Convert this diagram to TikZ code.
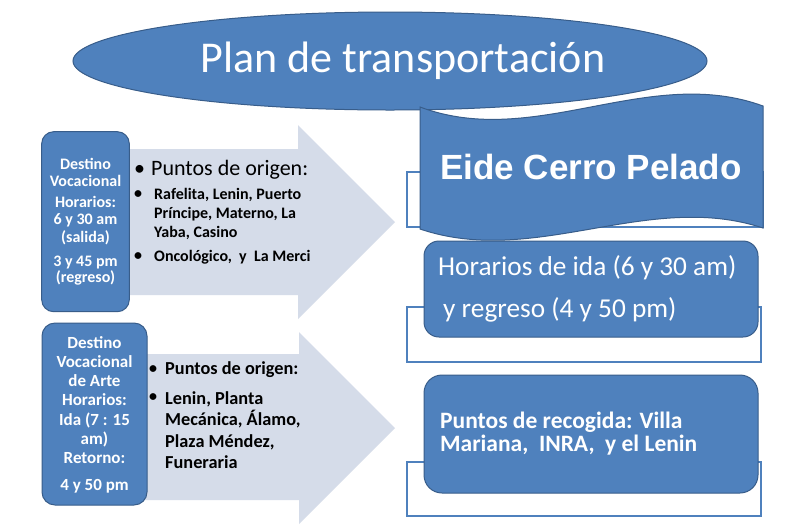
\documentclass[tikz,border=0pt]{standalone}
\usepackage{fontspec}
\setmainfont{Carlito}
\newfontfamily\arialf{Liberation Sans}
\usetikzlibrary{shapes.geometric}
\definecolor{boxblue}{HTML}{4F81BD}
\definecolor{boxedge}{HTML}{385D8A}
\definecolor{arrowfill}{HTML}{D5DCE9}
\tikzset{
  bluebox/.style={fill=boxblue, draw=boxedge, line width=1pt},
  framebox/.style={draw=boxblue, line width=1.3pt},
  arrowshape/.style={fill=arrowfill},
  wtxt/.style={text=white, inner sep=0pt, align=center},
  btxt/.style={text=black, inner sep=0pt, align=left, anchor=west},
}
\begin{document}
\begin{tikzpicture}[x=1pt,y=-1pt]
\useasboundingbox (0,0) rectangle (800,528);
\fill[white] (0,0) rectangle (800,528);

% background frames
\draw[framebox] (407,172) rectangle (763,227);
\draw[framebox] (407,307) rectangle (761,362);
\draw[framebox] (407,462) rectangle (761,516);

% arrows
\fill[arrowshape] (125,149) -- (298,149) -- (298,125) -- (395,222) -- (298,319) -- (298,295) -- (125,295) -- cycle;
\fill[arrowshape] (140,354) -- (299,354) -- (299,332) -- (395,428) -- (299,524) -- (299,500) -- (140,500) -- cycle;

% left boxes
\node[bluebox, rounded corners=12pt, minimum width=87.6pt, minimum height=180pt, inner sep=0pt] (lb1) at (85.5,221.7) {};
\node[bluebox, rounded corners=13pt, minimum width=105pt, minimum height=182pt, inner sep=0pt] (lb2) at (94.5,414) {};

% title ellipse
\node[ellipse, bluebox, minimum width=634pt, minimum height=98pt, inner sep=0pt] (title) at (390,61) {};
\node[wtxt, font=\fontsize{44}{48}\selectfont] (titletxt) at (403,61) {Plan de transportación};

% wave banner
\path[bluebox] (420,107) .. controls (535,150) and (648,64) .. (763,106)
  -- (763,228) .. controls (648,190) and (535,268) .. (420,229) -- cycle;
\node[wtxt, font=\arialf\bfseries\fontsize{35}{38}\selectfont] (eide) at (591,167) {Eide Cerro Pelado};

% right boxes
\node[bluebox, rounded corners=15pt, minimum width=334pt, minimum height=96pt, inner sep=0pt] (rb1) at (591,289) {};
\node[bluebox, rounded corners=18pt, minimum width=334pt, minimum height=118pt, inner sep=0pt] (rb2) at (591,434) {};

\node[wtxt, anchor=west, font=\fontsize{27.3}{30}\selectfont] (hor1) at (438,268) {Horarios de ida (6 y 30 am)};
\node[wtxt, anchor=west, font=\fontsize{27.3}{30}\selectfont] (hor2) at (443,310) {y regreso (4 y 50 pm)};
\node[wtxt, anchor=west, align=left, font=\bfseries\fontsize{23.5}{23.5}\selectfont] (reco) at (440,433.5) {Puntos de recogida: Villa\\Mariana,\ \ INRA,\ \ y el Lenin};

% left box 1 text
\node[wtxt, font=\bfseries\fontsize{16}{17}\selectfont] (l1a) at (85.5,172.5) {Destino\\Vocacional};
\node[wtxt, font=\bfseries\fontsize{16}{17.5}\selectfont] (l1b) at (85.5,220.5) {Horarios:\\6 y 30 am\\(salida)};
\node[wtxt, font=\bfseries\fontsize{16}{16.5}\selectfont] (l1c) at (85.5,270.5) {3 y 45 pm\\(regreso)};

% left box 2 text
\node[wtxt, font=\bfseries\fontsize{17}{19.3}\selectfont] (l2a) at (94.5,400) {Destino\\Vocacional\\de Arte\\Horarios:\\Ida (7 : 15\\am)\\Retorno:};
\node[wtxt, font=\bfseries\fontsize{17}{19.3}\selectfont] (l2b) at (94.5,486) {4 y 50 pm};

% arrow 1 text
\node[btxt, font=\fontsize{22}{26}\selectfont] (a1b0) at (134,170) {\textbullet};
\node[btxt, font=\fontsize{22}{26}\selectfont] (a1h) at (151,170) {Puntos de origen:};
\node[btxt, font=\bfseries\fontsize{16}{19.3}\selectfont] (a1b1) at (134,195) {\textbullet};
\node[btxt, font=\bfseries\fontsize{16}{19.3}\selectfont] (a1i1) at (154,214) {Rafelita, Lenin, Puerto\\Príncipe, Materno, La\\Yaba, Casino};
\node[btxt, font=\bfseries\fontsize{16}{19.3}\selectfont] (a1b2) at (134,257) {\textbullet};
\node[btxt, font=\bfseries\fontsize{16}{19.3}\selectfont] (a1i2) at (154,257) {Oncológico,\ \ y\ \ La Merci};

% arrow 2 text
\node[btxt, font=\bfseries\fontsize{16}{21.3}\selectfont] (a2b0) at (149,370) {\textbullet};
\node[btxt, font=\bfseries\fontsize{18.3}{21.3}\selectfont] (a2h) at (165,370) {Puntos de origen:};
\node[btxt, font=\bfseries\fontsize{16}{21.3}\selectfont] (a2b1) at (149,398) {\textbullet};
\node[btxt, font=\bfseries\fontsize{18.3}{21.3}\selectfont] (a2i1) at (165,430) {Lenin, Planta\\Mecánica, Álamo,\\Plaza Méndez,\\Funeraria};
\end{tikzpicture}
\end{document}
